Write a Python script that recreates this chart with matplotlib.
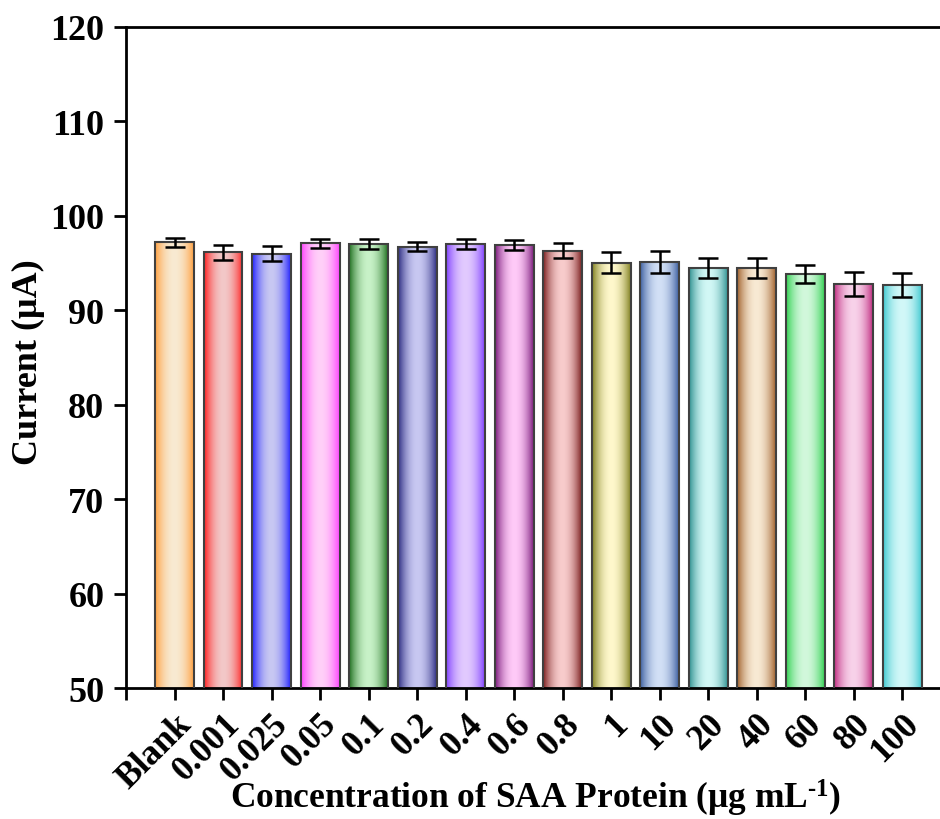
import numpy as np
import matplotlib
matplotlib.use('Agg')
import matplotlib.pyplot as plt
from matplotlib.colors import to_rgb

plt.rcParams['font.family'] = ['Liberation Serif', 'DejaVu Serif']
plt.rcParams['font.weight'] = 'bold'
plt.rcParams['mathtext.fontset'] = 'custom'
plt.rcParams['mathtext.rm'] = 'Liberation Serif:bold'
plt.rcParams['mathtext.bf'] = 'Liberation Serif:bold'
plt.rcParams['mathtext.default'] = 'bf'

# concentrations and measured currents
labels = ['Blank', '0.001', '0.025', '0.05', '0.1', '0.2', '0.4', '0.6', '0.8',
          '1', '10', '20', '40', '60', '80', '100']
current = [97.2, 96.15, 96.0, 97.1, 97.0, 96.75, 97.0, 96.9, 96.3,
           95.05, 95.15, 94.5, 94.45, 93.85, 92.8, 92.65]
err = [0.5, 0.8, 0.8, 0.5, 0.5, 0.5, 0.5, 0.5, 0.8,
       1.15, 1.15, 1.05, 1.05, 0.95, 1.25, 1.25]

# (side colour, centre colour) of each bar
edge_cols = ['#ffa040', '#ff2020', '#2020ff', '#ff40ff', '#1e6e1e', '#2a2a80',
             '#8040ff', '#7a1a7a', '#7a1e1e', '#808020', '#3c5ea0', '#2e9090',
             '#a0602c', '#30d050', '#c02c80', '#40c8d0']
mid_cols = ['#f8ead2', '#f2c8c8', '#c8c8f2', '#ffd0f8', '#c8f2c8', '#c8c8f2',
            '#e2cafe', '#ffcaf8', '#f8cccc', '#fff8cc', '#d2e0f6', '#d2f8f6',
            '#f8ead4', '#d2f8dc', '#f8d2ea', '#d2f8f8']

fig = plt.figure(figsize=(9.4, 8.2), dpi=100)
ax = fig.add_axes([126 / 940, 131 / 820, 820 / 940, 661 / 820])

x = np.arange(len(labels))
width = 0.8
bars = ax.bar(x, current, width, color='none', edgecolor='#404040',
              linewidth=1.5, zorder=3)

# horizontal shading inside each bar
t = np.linspace(-1, 1, 200)
prof = np.abs(t) ** 2
for b, ec, mc in zip(bars, edge_cols, mid_cols):
    e = np.array(to_rgb(ec))
    m = np.array(to_rgb(mc))
    img = m[None, :] + (e - m)[None, :] * prof[:, None]
    img = img[None, :, :]
    x0 = b.get_x()
    im = ax.imshow(img, extent=[x0, x0 + b.get_width(), 50, b.get_height()],
                   aspect='auto', zorder=2, interpolation='bilinear')
    im.set_clip_path(b)

ax.errorbar(x, current, yerr=err, fmt='none', ecolor='black', elinewidth=1.8,
            capsize=7, capthick=1.8, zorder=4)

ax.set_xlim(-1, 16 - 0.006 * 17)
ax.set_ylim(50, 120)
ax.set_yticks(np.arange(50, 121, 10))
ax.set_xticks(np.arange(-1, 16))
ax.set_xticklabels([''] + labels, rotation=45, ha='right', va='top',
                   rotation_mode='anchor', fontsize=25.5)
ax.tick_params(direction='out', length=8.6, width=2)
ax.tick_params(axis='y', labelsize=26, pad=7)
ax.tick_params(axis='x', pad=5)

for s in ax.spines.values():
    s.set_linewidth(2)

ax.set_ylabel('Current (μA)', fontsize=26, fontweight='bold')
ax.set_xlabel(r'Concentration of SAA Protein (μg mL$^{\text{-1}}$)',
              fontsize=25.5, fontweight='bold')
ax.xaxis.set_label_coords(0.5, -0.135)
ax.yaxis.set_label_coords(-0.099, 0.495)

fig.savefig('out.png', dpi=100)
